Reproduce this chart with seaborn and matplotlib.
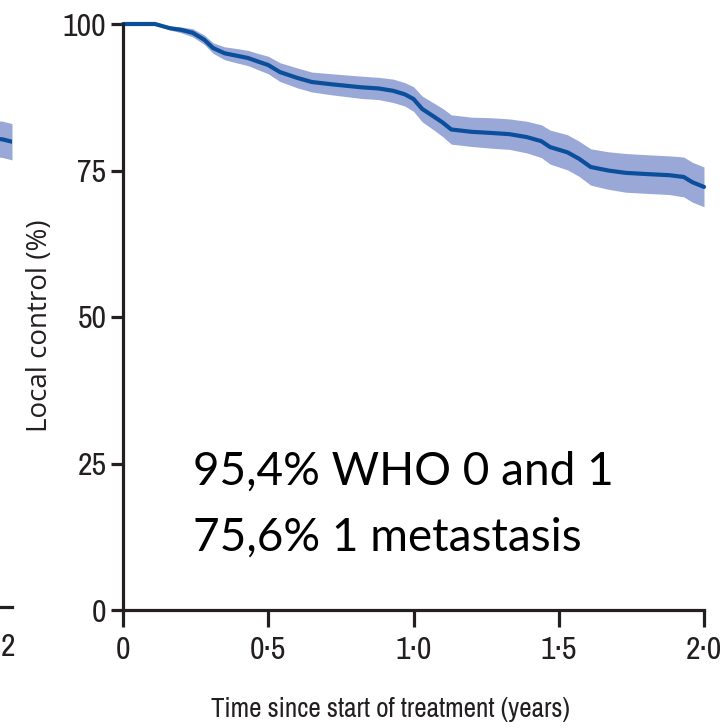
import matplotlib
matplotlib.use("Agg")
import matplotlib.pyplot as plt
import seaborn as sns
import pandas as pd
from matplotlib import font_manager as fm

# ---------------- data ----------------
time_years = [0, 0.11, 0.16, 0.20, 0.24, 0.28, 0.31, 0.35, 0.38, 0.43, 0.47, 0.50,
              0.54, 0.60, 0.65, 0.72, 0.82, 0.88, 0.93, 0.97, 1.00, 1.03, 1.07, 1.10,
              1.13, 1.20, 1.27, 1.33, 1.39, 1.44, 1.47, 1.53, 1.57, 1.61, 1.67, 1.73,
              1.80, 1.88, 1.93, 1.96, 2.00]
local_control = [100, 100, 99.3, 99.0, 98.5, 97.3, 95.9, 95.0, 94.7, 94.2, 93.5, 93.0,
                 91.8, 90.8, 90.1, 89.7, 89.2, 89.0, 88.6, 88.0, 87.2, 85.5, 84.2, 83.2,
                 82.0, 81.6, 81.4, 81.2, 80.7, 80.0, 79.0, 78.1, 77.0, 75.6, 75.0, 74.6,
                 74.4, 74.2, 73.9, 73.0, 72.2]
ci_halfwidth = [0, 0, 0.3, 0.5, 0.7, 0.8, 0.9, 1.1, 1.2, 1.3, 1.4, 1.5,
                1.6, 1.7, 1.7, 1.8, 1.9, 1.9, 2.0, 2.0, 2.1, 2.2, 2.3, 2.4,
                2.5, 2.5, 2.6, 2.6, 2.7, 2.8, 2.9, 3.0, 3.0, 3.1, 3.2, 3.3,
                3.3, 3.3, 3.4, 3.4, 3.4]

x_ticks = [0, 0.5, 1.0, 1.5, 2.0]
x_ticklabels = ["0", "0·5", "1·0", "1·5", "2·0"]
y_ticks = [0, 25, 50, 75, 100]
y_ticklabels = ["0", "25", "50", "75", "100"]

annotation_lines = ["95,4% WHO 0 and 1", "75,6% 1 metastasis"]

# remnant of the neighbouring panel on the left edge
left_time = [1.80, 1.95, 2.00]
left_control = [80.3, 79.8, 79.4]
left_ci = [3.0, 3.1, 3.1]
left_ticklabels = ["2"]

# ---------------- style ----------------
sns.set_style("white")

# look for an installed condensed face
cond_name, cond_stretch = None, "normal"
for f in fm.fontManager.ttflist:
    st = str(f.stretch).lower()
    if ("condensed" in st or "narrow" in f.name.lower()
            or "condensed" in f.fname.lower()) and f.style == "normal":
        cond_name = f.name
        cond_stretch = f.stretch
        if "dejavu" not in f.name.lower():
            break
if cond_name is None:
    cond_name = "Roboto"
    cond_stretch = "normal"

plt.rcParams["font.family"] = [cond_name, "DejaVu Sans"]
TICKFONT = dict(family=[cond_name, "DejaVu Sans"], stretch=cond_stretch)

LINE = "#0b4f9c"
BAND = "#9aa8d8"
AXC = "#231f20"

fig = plt.figure(figsize=(7.28, 7.28), dpi=100)
W = H = 728.0

# main axes: x 123..704 px, y 24..610 px
ax = fig.add_axes([123 / W, (H - 610) / H, (704 - 123) / W, (610 - 24) / H])

df = pd.DataFrame({"t": time_years, "lc": local_control, "ci": ci_halfwidth})
ax.fill_between(df["t"], df["lc"] - df["ci"], df["lc"] + df["ci"],
                color=BAND, lw=0, clip_on=False, zorder=1)
sns.lineplot(data=df, x="t", y="lc", ax=ax, color=LINE, lw=3.0,
             clip_on=False, zorder=3)

ax.set_xlim(0, 2)
ax.set_ylim(0, 100)
ax.set_xticks(x_ticks)
ax.set_xticklabels(x_ticklabels, **TICKFONT)
ax.set_yticks(y_ticks)
ax.set_yticklabels(y_ticklabels, **TICKFONT)
for s in ["top", "right"]:
    ax.spines[s].set_visible(False)
for s in ["left", "bottom"]:
    ax.spines[s].set_color(AXC)
    ax.spines[s].set_linewidth(2.3)
    ax.spines[s].set_zorder(4)
ax.tick_params(axis="y", direction="out", length=9, width=2.3, color=AXC,
               labelsize=23, pad=3, labelcolor=AXC, left=True)
ax.tick_params(axis="x", direction="out", length=12.5, width=2.3, color=AXC,
               labelsize=23, pad=6, labelcolor=AXC, bottom=True)

ax.set_xlabel("Time since start of treatment (years)", fontsize=19.5, color=AXC,
              va="top", **TICKFONT)
ax.xaxis.set_label_coords(0.46, -0.149)
ax.set_ylabel("Local control (%)", fontsize=20, color=AXC,
              family=["Open Sans", "DejaVu Sans"], va="center")
ax.yaxis.set_label_coords(-0.143, 0.485)

ax.text(0.241, 21.3, annotation_lines[0], fontsize=33, color="black",
        family=["Lato", "DejaVu Sans"], va="baseline")
ax.text(0.241, 10.2, annotation_lines[1], fontsize=33, color="black",
        family=["Lato", "DejaVu Sans"], va="baseline")

# neighbouring panel remnant
ax0 = fig.add_axes([-0.5, (H - 607) / H, 0.5 + 12 / W, (607 - 21) / H])
dfl = pd.DataFrame({"t": left_time, "lc": left_control, "ci": left_ci})
ax0.fill_between(dfl["t"], dfl["lc"] - dfl["ci"], dfl["lc"] + dfl["ci"],
                 color=BAND, lw=0)
sns.lineplot(data=dfl, x="t", y="lc", ax=ax0, color=LINE, lw=3.0)
ax0.set_xlim(0, 2)
ax0.set_ylim(0, 100)
ax0.set_xticks([1.98])
ax0.set_xticklabels(left_ticklabels, ha="center", **TICKFONT)
ax0.set_yticks([])
ax0.set_xlabel("")
ax0.set_ylabel("")
for s in ["top", "right", "left"]:
    ax0.spines[s].set_visible(False)
ax0.spines["bottom"].set_color(AXC)
ax0.spines["bottom"].set_linewidth(2.3)
ax0.tick_params(axis="x", length=0, labelsize=23, pad=19, labelcolor=AXC)

fig.savefig("out.png", dpi=100)
